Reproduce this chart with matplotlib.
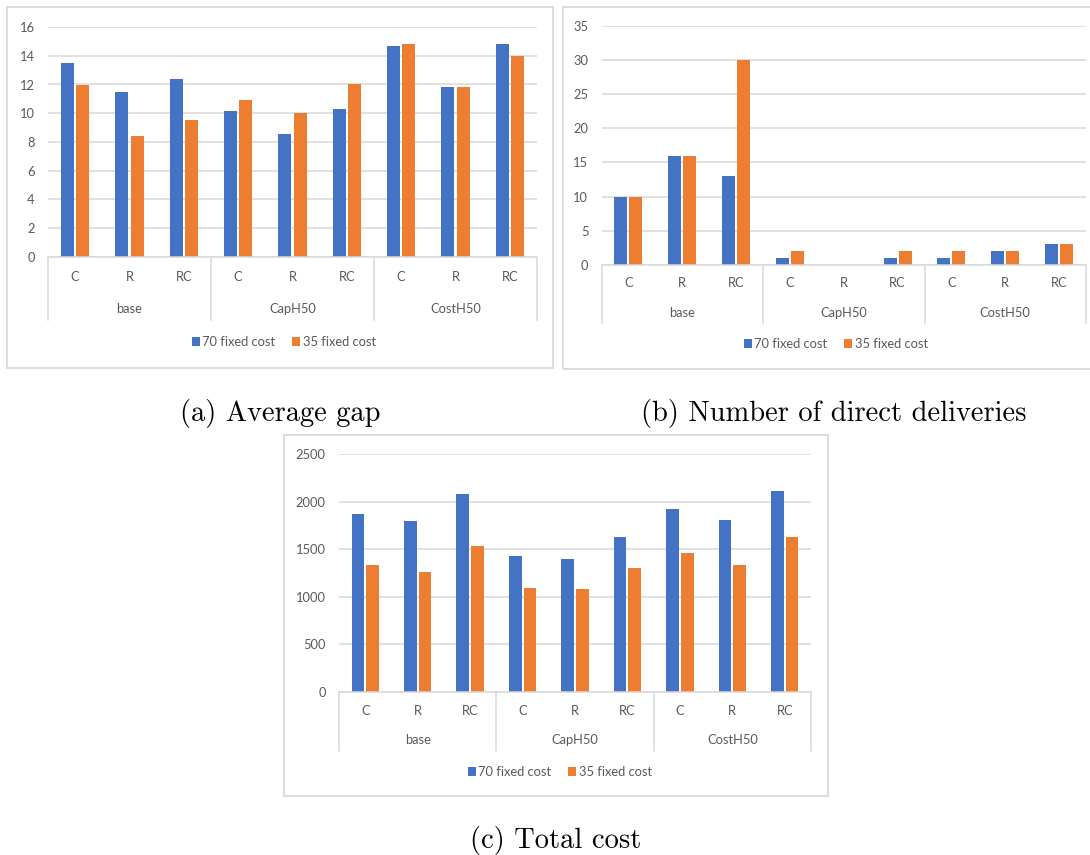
import matplotlib
matplotlib.use("Agg")
import matplotlib.pyplot as plt
from matplotlib.patches import Rectangle, Patch

# ---------------- data ----------------
groups = ["base", "CapH50", "CostH50"]
subcats = ["C", "R", "RC"]
series_names = ["70 fixed cost", "35 fixed cost"]

gap_70 = [13.5, 11.45, 12.4, 10.15, 8.55, 10.3, 14.7, 11.8, 14.8]
gap_35 = [11.95, 8.4, 9.5, 10.9, 10.05, 12.05, 14.8, 11.85, 13.95]

direct_70 = [10, 16, 13, 1, 0, 1, 1, 2, 3]
direct_35 = [10, 16, 30, 2, 0, 2, 2, 2, 3]

cost_70 = [1867, 1794, 2077, 1430, 1392, 1626, 1920, 1804, 2115]
cost_35 = [1339, 1262, 1531, 1091, 1080, 1301, 1458, 1329, 1626]

captions = ["(a) Average gap", "(b) Number of direct deliveries", "(c) Total cost"]

# ---------------- style ----------------
W, H = 1090, 855
BLUE = "#4472C4"
ORANGE = "#ED7D31"
GRID = "#D9D9D9"
TXT = "#595959"
FONT = "Lato"
FS = 9.3

fig = plt.figure(figsize=(W / 100, H / 100), dpi=100)
fig.patch.set_facecolor("white")


def add_box(x0, y0, x1, y1):
    fig.patches.append(Rectangle((x0 / W, 1 - y1 / H), (x1 - x0) / W, (y1 - y0) / H,
                                 transform=fig.transFigure, fill=False,
                                 edgecolor=GRID, linewidth=1.3, zorder=0))


def panel(left, right, ytop, yzero, ymax, step, v70, v35,
          dy_cat, dy_group, dy_sep, dy_leg, leg_cx):
    h = yzero - ytop
    ax = fig.add_axes([left / W, 1 - yzero / H, (right - left) / W, h / H])
    n = len(v70)
    xs = list(range(n))
    w = 0.24
    off = 0.14
    ax.bar([x - off for x in xs], v70, width=w, color=BLUE, zorder=3, label=series_names[0])
    ax.bar([x + off for x in xs], v35, width=w, color=ORANGE, zorder=3, label=series_names[1])
    ax.set_xlim(-0.5, n - 0.5)
    ax.set_ylim(0, ymax)
    ticks = list(range(0, ymax + 1, step))
    ax.set_yticks(ticks)
    ax.set_yticklabels([str(t) for t in ticks], fontfamily=FONT, fontsize=FS, color=TXT)
    ax.tick_params(axis="y", length=0, pad=9.5)
    ax.set_xticks([])
    ax.grid(axis="y", color=GRID, linewidth=1.1, zorder=0)
    for s in ["left", "right", "top"]:
        ax.spines[s].set_visible(False)
    ax.spines["bottom"].set_color(GRID)
    ax.spines["bottom"].set_linewidth(1.1)
    ax.spines["bottom"].set_zorder(4)

    # sub-category labels
    for i, x in enumerate(xs):
        ax.annotate(subcats[i % 3], xy=(x, 0), xycoords=("data", "axes fraction"),
                    xytext=(0, -dy_cat), textcoords="offset pixels",
                    ha="center", va="center", fontfamily=FONT, fontsize=FS, color=TXT,
                    annotation_clip=False)
    # group labels
    for g, name in enumerate(groups):
        ax.annotate(name, xy=(3 * g + 1, 0), xycoords=("data", "axes fraction"),
                    xytext=(0, -dy_group), textcoords="offset pixels",
                    ha="center", va="center", fontfamily=FONT, fontsize=FS, color=TXT,
                    annotation_clip=False)
    # separators
    for xsep in [-0.5, 2.5, 5.5, n - 0.5]:
        ax.plot([xsep, xsep], [0, -dy_sep / h], transform=ax.get_xaxis_transform(),
                color=GRID, linewidth=1.1, clip_on=False, zorder=4)
    # legend (centred in figure pixel coordinates)
    handles = [Patch(facecolor=BLUE, edgecolor="none"), Patch(facecolor=ORANGE, edgecolor="none")]
    fig.legend(handles, series_names, loc="center",
               bbox_to_anchor=(leg_cx / W, 1 - (yzero + dy_leg) / H),
               bbox_transform=fig.transFigure,
               ncol=2, frameon=False, handlelength=0.62, handleheight=0.62,
               handletextpad=0.2, columnspacing=1.3,
               prop={"family": FONT, "size": FS}, labelcolor=TXT)
    return ax


# panel (a)
add_box(7, 7, 553, 368)
panel(48, 537, 27, 257, 16, 2, gap_70, gap_35, 20, 52, 63, 85, 284)
# panel (b)
add_box(563, 7, 1110, 369)
panel(601.5, 1086, 25.7, 265, 35, 5, direct_70, direct_35, 18, 48, 58, 79, 836)
# panel (c)
add_box(284, 435, 828, 796)
panel(339, 811, 454, 692, 2500, 500, cost_70, cost_35, 19, 48, 59, 80, 560)

# captions
cap_pos = [(280, 413), (834, 413), (556, 840)]
for txt, (cx, cy) in zip(captions, cap_pos):
    fig.text(cx / W, 1 - cy / H, txt, ha="center", va="center",
             fontfamily="cmr10", fontsize=20.5, color="black")

fig.savefig("out.png", dpi=100, facecolor="white")
